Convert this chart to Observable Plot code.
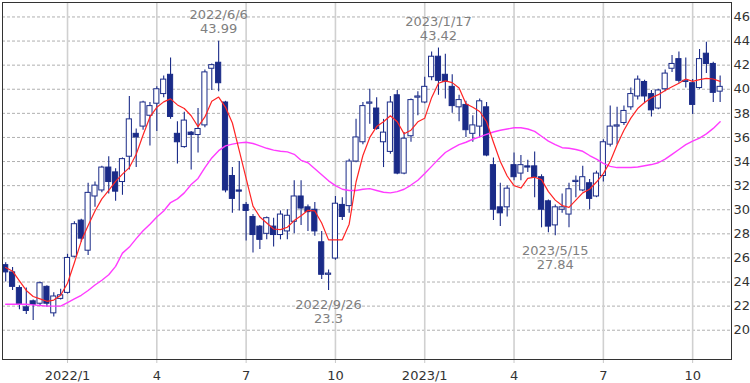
<!DOCTYPE html>
<html><head><meta charset="utf-8">
<script src="https://cdn.jsdelivr.net/npm/d3@7"></script>
<script src="https://cdn.jsdelivr.net/npm/@observablehq/plot@0.6"></script>
<style>body{margin:0;background:#fff;}</style>
</head><body><div id="chart"></div>
<script>
// Weekly candles, first week starting 2021-11-01
const startWeek = "2021-11-01";
const open = [25.4,24.8,23.5,21.9,22.4,22.2,23.6,21.4,22.6,
23.1,26.1,29.1,26.6,31.1,31.6,33.5,33.1,32.3,34.4,
36.3,36.9,37.8,38.8,39.6,41.2,36.3,35.2,36.4,36.2,
37.0,41.7,42.2,38.9,32.8,31.6,30.4,29.4,28.6,28.0,
28.6,27.9,28.2,29.0,31.1,30.2,30.0,27.3,24.6,25.95,
30.4,30.3,34.0,35.6,38.8,38.4,35.6,34.8,39.5,33.0,
36.1,39.3,38.9,41.0,42.7,41.2,40.2,38.5,38.7,36.3,
36.9,38.5,33.7,30.2,30.2,33.7,33.0,33.6,33.6,32.7,
30.7,28.7,30.0,29.6,32.3,31.6,32.2,31.1,32.8,35.4,
36.9,37.2,38.5,39.4,40.6,39.6,38.4,40.0,41.7,42.5,
40.6,40.5,40.1,42.95,42.1,39.8];
const high = [25.6,25.2,23.7,23.5,22.5,24.0,23.7,23.1,23.4,
26.3,29.0,29.2,32.2,32.3,33.6,34.4,33.4,34.3,39.4,
36.7,39.0,38.9,40.2,41.1,42.6,37.3,38.1,36.5,38.4,
41.6,42.1,43.99,39.0,33.5,34.0,30.6,29.6,28.7,29.4,
29.3,29.9,30.0,32.4,32.4,30.4,30.6,28.2,25.0,31.1,
31.0,34.2,37.5,38.9,40.0,39.3,37.5,39.4,39.9,36.4,
39.2,39.8,41.0,43.1,43.42,42.9,41.2,39.5,39.0,37.8,
39.2,38.9,34.3,32.2,32.0,34.7,34.5,34.1,34.8,32.9,
30.8,30.4,31.3,32.2,32.8,33.6,32.5,33.2,35.8,38.6,
38.5,38.6,40.1,41.1,40.75,39.9,40.0,41.6,42.8,43.1,
42.6,40.8,43.3,43.9,42.25,41.1];
const low = [24.0,23.3,21.7,21.3,20.8,22.0,21.9,21.1,22.5,
23.0,26.0,27.3,26.2,30.2,31.4,31.3,30.7,31.2,33.3,
33.5,36.6,35.3,36.5,39.3,37.5,33.8,35.1,33.3,34.7,
36.8,39.9,39.8,31.4,29.7,29.9,27.4,26.4,26.7,27.5,
26.9,27.5,27.5,28.0,28.7,28.2,27.8,24.2,23.3,25.8,
29.1,29.7,33.9,35.4,37.1,36.6,33.5,34.6,32.9,32.9,
35.6,37.8,38.8,40.7,39.5,39.2,38.0,37.3,36.0,35.6,
36.0,34.4,29.1,28.6,29.4,32.4,32.4,33.1,31.0,28.5,
28.1,27.84,29.7,28.5,31.0,31.5,30.0,31.0,32.3,35.2,
35.4,37.0,38.25,39.1,38.8,37.7,38.3,39.8,41.4,40.5,
40.1,37.9,40.0,41.3,38.9,38.9];
const close = [24.8,23.6,22.1,21.6,22.1,23.9,22.2,22.8,22.9,
26.0,28.8,27.6,31.4,32.0,33.5,32.3,31.5,34.2,37.5,
36.0,38.9,38.6,40.0,40.8,37.7,35.6,37.4,36.2,36.7,
41.4,42.0,40.5,31.6,30.9,31.5,29.9,27.9,27.5,29.3,
27.9,29.6,29.5,31.1,30.1,29.8,28.2,24.6,24.7,30.5,
29.4,34.0,36.0,38.6,38.9,36.7,36.4,38.9,33.0,35.9,
39.1,39.4,40.2,42.7,40.7,40.6,38.6,39.1,36.6,37.0,
39.0,34.5,30.0,29.7,31.75,32.7,33.7,33.5,32.7,30.0,
28.6,30.2,30.2,31.7,32.4,32.7,30.9,33.0,35.6,36.9,
37.0,38.2,39.6,40.8,39.4,38.25,39.9,41.3,42.1,40.7,
40.7,38.7,42.5,42.1,39.7,40.2];
const maShort = [25.2,24.9,24.1,23.3,22.8,22.6,22.4,22.5,22.9,
23.9,25.6,27.4,28.7,29.9,30.9,31.6,32.35,32.95,33.5,
34.6,36.2,37.7,38.5,38.95,39.2,38.7,38.4,37.8,36.9,
37.7,39.0,39.35,38.5,37.2,34.9,32.6,30.3,29.4,28.9,
28.4,28.35,28.55,29.1,29.5,29.95,29.9,28.9,27.5,27.5,
27.5,28.8,32.3,34.5,36.0,36.9,37.3,37.8,37.3,36.3,
36.6,37.3,37.6,39.3,40.5,40.7,40.55,40.1,38.8,38.5,
38.15,37.3,35.6,34.0,32.8,32.0,31.8,32.6,32.7,32.5,
31.5,30.8,30.35,30.2,30.8,31.4,31.7,32.3,33.0,34.0,
35.4,36.6,37.6,38.4,38.9,39.3,39.55,39.9,40.2,40.5,
40.85,40.65,40.8,40.9,40.85,40.65];
const maLong = [22.15,22.15,22.15,22.15,22.1,22.05,22.0,22.0,22.0,
22.3,22.6,22.9,23.3,23.75,24.15,24.6,25.3,26.4,26.9,
27.6,28.25,28.8,29.4,29.9,30.6,30.9,31.4,32.1,32.6,
33.5,34.3,34.9,35.3,35.45,35.55,35.6,35.5,35.3,35.1,
34.95,34.85,34.8,34.6,34.1,33.9,33.4,32.9,32.4,32.0,
31.7,31.6,31.6,31.7,31.75,31.6,31.45,31.4,31.5,31.7,
32.05,32.45,33.0,33.6,34.2,34.75,35.1,35.4,35.6,35.85,
36.05,36.25,36.45,36.6,36.7,36.8,36.8,36.7,36.5,36.1,
35.7,35.4,35.15,35.1,35.0,34.85,34.5,34.2,33.85,33.6,
33.5,33.5,33.5,33.55,33.65,33.75,33.9,34.2,34.6,35.0,
35.4,35.7,35.95,36.3,36.75,37.3];

const tickWeeks = ["2022-01-03","2022-04-04","2022-07-04","2022-10-03","2023-01-02","2023-04-03","2023-07-03","2023-10-02"];
const tickLabels = ["2022/1","4","7","10","2023/1","4","7","10"];
const yTicks = [20,22,24,26,28,30,32,34,36,38,40,42,44,46];

const annoWeeks = ["2022-06-06","2022-09-26","2023-01-16","2023-05-15"];
const annoLabels = ["2022/6/6","2022/9/26","2023/1/17","2023/5/15"];
const annoValues = [43.99, 23.3, 43.42, 27.84];
const annoSide = ["high","low","high","low"];

const parse = d3.utcParse("%Y-%m-%d");
const start = parse(startWeek);
const data = open.map((o, i) => ({
  date: d3.utcDay.offset(start, 7 * i),
  open: o, high: high[i], low: low[i], close: close[i],
  maS: maShort[i], maL: maLong[i]
}));
const ticks = tickWeeks.map(parse);
const tickMap = new Map(ticks.map((t, i) => [+t, tickLabels[i]]));
const annos = annoWeeks.map((w, i) => ({date: parse(w), value: annoValues[i], side: annoSide[i], text: annoLabels[i] + "\n" + annoValues[i]}));

const navy = "#1a2b88";
const chart = Plot.plot({
  width: 750, height: 383,
  marginLeft: 2, marginRight: 19, marginTop: 2, marginBottom: 24,
  style: {fontFamily: "'DejaVu Sans', Verdana, sans-serif", fontSize: "13px", color: "#333", background: "#fff"},
  x: {type: "utc", domain: [d3.utcHour.offset(data[0].date, -78), d3.utcHour.offset(data[data.length - 1].date, 278)]},
  y: {domain: [17.57, 47.2]},
  marks: [
    Plot.ruleY(yTicks, {stroke: "#b0b0b0", strokeDasharray: "3,2"}),
    Plot.ruleX(ticks, {stroke: "#d0d0d0", strokeWidth: 1.6}),
    Plot.ruleX(data, {x: "date", y1: "low", y2: "high", stroke: navy, strokeWidth: 1.1}),
    Plot.rect(data, {
      x1: d => d3.utcHour.offset(d.date, -63),
      x2: d => d3.utcHour.offset(d.date, 63),
      y1: "open", y2: "close",
      fill: d => d.close >= d.open ? "#ffffff" : navy,
      stroke: navy, strokeWidth: 1
    }),
    Plot.line(data, {x: "date", y: "maL", stroke: "#ff3cff", strokeWidth: 1.4}),
    Plot.line(data, {x: "date", y: "maS", stroke: "#ff2424", strokeWidth: 1.2}),
    Plot.text(annos.filter(d => d.side === "high"), {x: "date", y: "value", text: "text", lineAnchor: "bottom", dy: -8, lineHeight: 1.08, fill: "#808080", fontSize: 13}),
    Plot.text(annos.filter(d => d.side === "low"), {x: "date", y: "value", text: "text", lineAnchor: "top", dy: 9, lineHeight: 1.08, fill: "#808080", fontSize: 13}),
    Plot.axisY(yTicks, {anchor: "right", tickSize: 0, tickPadding: 2, fill: "#333", fontSize: 13}),
    Plot.axisX(ticks, {tickSize: 4, stroke: "#c8c8c8", tickPadding: 7, tickFormat: d => tickMap.get(+d), fill: "#333", fontSize: 13}),
    Plot.frame({stroke: "#333"})
  ]
});
document.getElementById("chart").appendChild(chart);
</script>
</body></html>
